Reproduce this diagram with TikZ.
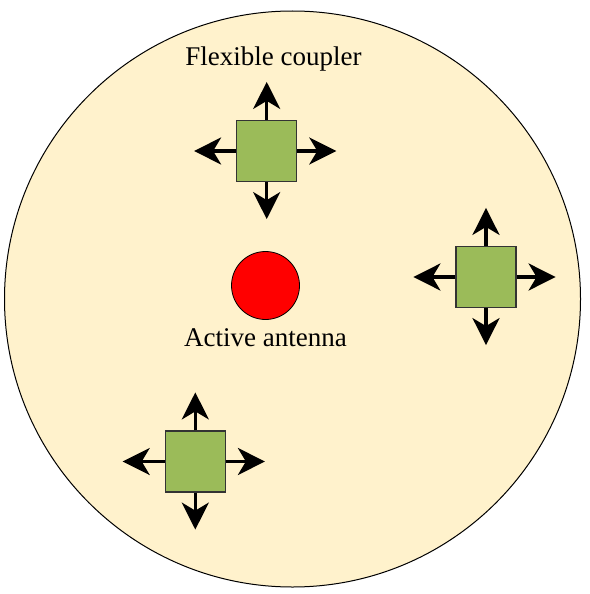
\documentclass[tikz,border=0pt]{standalone}
\usepackage{fontspec}
\setmainfont{Liberation Serif}
\usepackage{tikz}
\usetikzlibrary{arrows.meta}
\definecolor{plate}{HTML}{FFF2CC}
\definecolor{coupler}{HTML}{9BBB59}
\definecolor{edge}{HTML}{333333}

\begin{document}
\begin{tikzpicture}[x=1pt,y=-1pt,
  font=\fontsize{27}{30}\selectfont,
  cpl/.style={draw=edge,line width=1.2pt,fill=coupler,minimum width=60pt,minimum height=61pt,inner sep=0pt},
  ant/.style={circle,draw=black,line width=0.8pt,fill=red,minimum size=68pt,inner sep=0pt},
  lbl/.style={anchor=base,inner sep=0pt},
  arr/.style={-{Stealth[length=27pt,width=27pt,inset=8pt]},line width=3.5pt,draw=black}]
\useasboundingbox (0,0) rectangle (589,594);
% plate
\node[circle,draw=black,line width=1pt,fill=plate,minimum size=576pt,inner sep=0pt] (plate) at (292.5,299) {};
% antenna
\node[ant] (ant) at (265.5,285.5) {};
\node[lbl] (antlbl) at (265.5,346) {Active antenna};
% couplers
\node[cpl] (c1) at (266.7,151) {};
\node[cpl] (c2) at (486,277) {};
\node[cpl] (c3) at (195.3,461.5) {};
\node[lbl] (cpllbl) at (273.5,66) {Flexible coupler};
\foreach \c in {c1,c2,c3}{
  \draw[arr] (\c.north) -- ++(0,-38);
  \draw[arr] (\c.south) -- ++(0,37);
  \draw[arr] (\c.west) -- ++(-42,0);
  \draw[arr] (\c.east) -- ++(39,0);
}
\end{tikzpicture}
\end{document}
